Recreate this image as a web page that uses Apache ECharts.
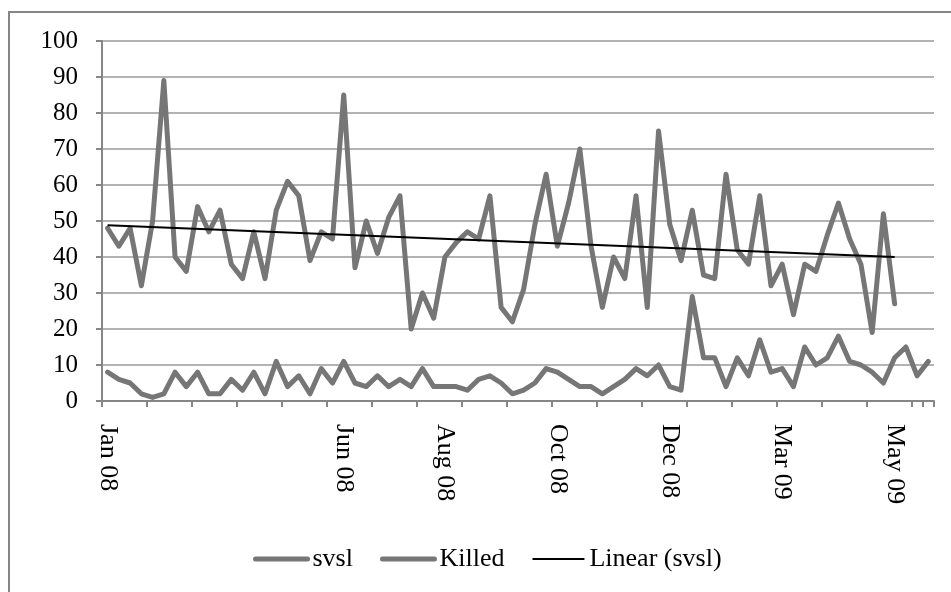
<!DOCTYPE html>
<html>
<head>
<meta charset="utf-8">
<script src="https://cdn.jsdelivr.net/npm/echarts@6/dist/echarts.min.js"></script>
<style>
  html, body { margin: 0; padding: 0; background: #fff; }
  #chart { width: 951px; height: 592px; }
</style>
</head>
<body>
<div id="chart"></div>
<script>
// 74 periods, only some carry a date label
const labelAt = { 0: "Jan 08", 21: "Jun 08", 30: "Aug 08", 40: "Oct 08", 50: "Dec 08", 60: "Mar 09", 70: "May 09" };
const categories = [];
for (let i = 0; i < 74; i++) categories.push(labelAt[i] || "");

const svsl = [
  48, 43, 48, 32, 50, 89, 40, 36, 54, 47, 53, 38, 34, 47, 34,
  53, 61, 57, 39, 47, 45, 85, 37, 50, 41, 51, 57, 20, 30, 23,
  40, 44, 47, 45, 57, 26, 22, 31, 49, 63, 43, 55, 70, 43, 26,
  40, 34, 57, 26, 75, 49, 39, 53, 35, 34, 63, 42, 38, 57, 32,
  38, 24, 38, 36, 46, 55, 45, 38, 19, 52, 27
];

const killed = [
  8, 6, 5, 2, 1, 2, 8, 4, 8, 2, 2, 6, 3, 8, 2,
  11, 4, 7, 2, 9, 5, 11, 5, 4, 7, 4, 6, 4, 9, 4,
  4, 4, 3, 6, 7, 5, 2, 3, 5, 9, 8, 6, 4, 4, 2,
  4, 6, 9, 7, 10, 4, 3, 29, 12, 12, 4, 12, 7, 17, 8,
  9, 4, 15, 10, 12, 18, 11, 10, 8, 5, 12, 15, 7, 11
];

// trend line end points: [category index, value]
const trendStart = [0, 48.8];
const trendEnd = [70, 40.0];

const serif = "'Liberation Serif', 'Times New Roman', serif";
const grey = "#767676";
const axisGrey = "#868686";

const chart = echarts.init(document.getElementById("chart"));
chart.setOption({
  backgroundColor: "#fff",
  animation: false,
  graphic: [
    {
      type: "rect",
      shape: { x: 9, y: 12, width: 1000, height: 700 },
      style: { fill: "none", stroke: axisGrey, lineWidth: 2 },
      silent: true
    }
  ],
  grid: { left: 102, right: 17, top: 41, bottom: 191 },
  legend: {
    left: 253,
    top: 546,
    padding: 0,
    itemWidth: 52,
    itemHeight: 14,
    itemGap: 27,
    itemStyle: { opacity: 0 },
    textStyle: { fontFamily: serif, fontSize: 26, color: "#000" },
    data: [
      { name: "svsl", lineStyle: { width: 5, color: grey } },
      { name: "Killed", lineStyle: { width: 5, color: grey } },
      { name: "Linear (svsl)", lineStyle: { width: 2, color: "#000" } }
    ]
  },
  xAxis: {
    type: "category",
    data: categories,
    boundaryGap: true,
    axisLine: { lineStyle: { color: axisGrey, width: 2 } },
    axisTick: { show: true, interval: 3, length: 6, lineStyle: { color: axisGrey, width: 2 } },
    axisLabel: {
      interval: 0,
      rotate: -90,
      margin: 23,
      fontFamily: serif,
      fontSize: 26,
      color: "#000"
    },
    splitLine: { show: false }
  },
  yAxis: {
    type: "value",
    min: 0,
    max: 100,
    interval: 10,
    axisLine: { show: true, lineStyle: { color: axisGrey, width: 2 } },
    axisTick: { show: true, length: 6, lineStyle: { color: axisGrey, width: 2 } },
    axisLabel: { margin: 24, fontFamily: serif, fontSize: 25, color: "#000" },
    splitLine: { lineStyle: { color: "#9a9a9a", width: 1.5 } }
  },
  series: [
    {
      name: "svsl",
      type: "line",
      data: svsl,
      symbol: "none",
      color: grey,
      lineStyle: { color: grey, width: 5, join: "round", cap: "round" }
    },
    {
      name: "Killed",
      type: "line",
      data: killed,
      symbol: "none",
      color: grey,
      lineStyle: { color: grey, width: 5, join: "round", cap: "round" }
    },
    {
      name: "Linear (svsl)",
      type: "line",
      data: [trendStart, trendEnd],
      symbol: "none",
      color: "#000",
      z: 3,
      lineStyle: { color: "#000", width: 2 }
    }
  ]
});
</script>
</body>
</html>
